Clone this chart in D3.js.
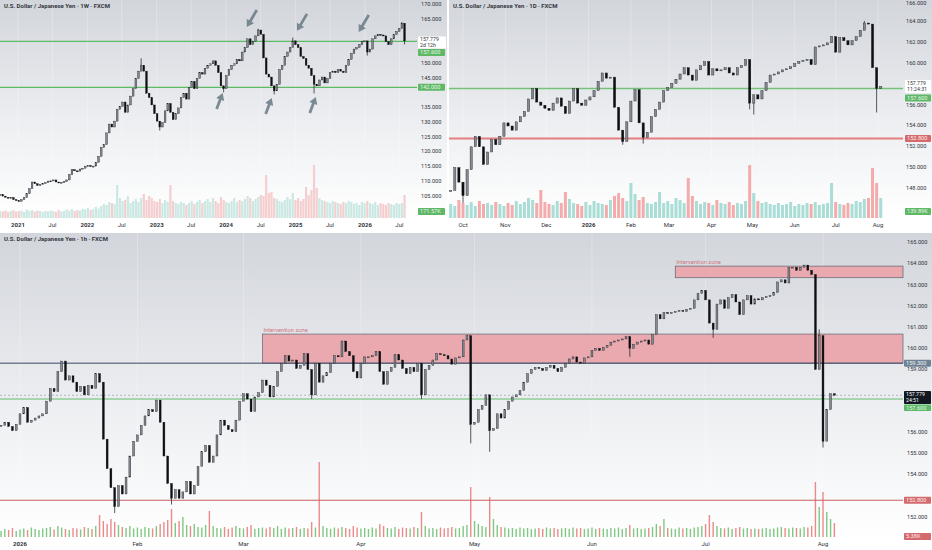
<!DOCTYPE html>
<html>
<head>
<meta charset="utf-8">
<script src="https://cdn.jsdelivr.net/npm/d3@7"></script>
<style>
  body { margin: 0; background: #fff; }
  svg { display: block; font-family: Roboto, "Liberation Sans", Arial, sans-serif; }
</style>
</head>
<body>
<svg id="chart" width="932" height="550"></svg>
<script>
// USD/JPY - three TradingView-style panes (1W, 1D, 1h), closes.

// ---- weekly pane: one close every 2 weeks from weeklyStart
const weeklyStart = "2020-09-29";
const weeklyStep = 14;
const weeklyClose = [
  105.5, 105.0, 104.6, 104.3, 104.5, 103.8, 103.5, 103.2, 103.8, 104.5,
  105.8, 107.5, 109.8, 109.2, 108.6, 108.9, 109.3, 109.6, 110.1, 110.2,
  110.5, 109.8, 109.5, 109.7, 109.9, 110.5, 112.3, 114.0, 113.6, 113.5,
  114.2, 114.5, 115.2, 115.4, 115.0, 115.2, 116.5, 118.5, 121.5, 122.5,
  126.5, 129.5, 128.5, 130.5, 134.5, 135.5, 137.0, 133.5, 136.0, 139.0,
  141.5, 145.0, 147.5, 149.5, 147.5, 140.0, 138.5, 136.0, 133.0, 130.5,
  128.5, 130.0, 134.0, 136.5, 133.5, 131.0, 133.0, 135.0, 138.5, 140.0,
  138.0, 142.0, 144.0, 141.5, 145.0, 147.0, 146.5, 148.5, 149.5, 150.0,
  151.0, 149.5, 147.0, 142.5, 141.5, 146.0, 148.0, 149.5, 150.0, 151.5,
  151.0, 154.0, 155.5, 158.5, 156.5, 157.5, 159.5, 161.5, 160.0, 152.0,
  146.5, 145.5, 142.5, 140.8, 143.0, 148.0, 149.5, 152.5, 154.0, 155.5,
  157.8, 156.5, 155.5, 152.5, 151.8, 149.5, 148.5, 146.0, 143.0, 142.5,
  144.5, 145.5, 143.5, 145.0, 147.0, 147.5, 147.0, 148.0, 147.5, 147.0,
  149.5, 151.5, 153.5, 155.0, 155.5, 156.5, 157.5, 157.8, 154.0, 155.0,
  158.5, 159.5, 160.0, 159.8, 159.5, 157.5, 156.5, 158.5, 160.0, 161.0,
  162.0, 163.8, 157.8
];
const weeklyVolume = [
  70, 65, 75, 60, 70, 80, 65, 70, 75, 60,
  85, 70, 80, 65, 75, 70, 60, 70, 65, 75,
  70, 60, 80, 65, 70, 85, 75, 90, 70, 80,
  75, 90, 85, 100, 80, 90, 110, 95, 120, 140,
  130, 160, 150, 140, 330, 200, 170, 180, 220, 150,
  170, 190, 160, 200, 240, 180, 220, 200, 170, 160,
  190, 150, 180, 160, 330, 170, 150, 140, 160, 150,
  130, 150, 170, 140, 160, 180, 150, 170, 190, 160,
  200, 170, 150, 210, 180, 160, 150, 170, 200, 160,
  180, 170, 190, 220, 200, 170, 190, 210, 230, 220,
  430, 250, 260, 200, 190, 170, 160, 180, 210, 190,
  250, 180, 200, 170, 190, 310, 230, 280, 530, 300,
  200, 180, 170, 160, 150, 170, 160, 150, 140, 160,
  150, 170, 160, 140, 150, 130, 160, 150, 170, 150,
  140, 160, 130, 150, 140, 130, 150, 140, 130, 150,
  140, 150, 230
];
// [candle index, wick extreme]
const weeklyWicks = [[53, 151.9], [60, 127.3], [84, 140.3], [97, 161.9], [103, 139.6],
  [110, 158.9], [118, 139.9], [138, 152.8], [151, 164.2], [152, 156.6]];
const weeklyLevels = [157.6, 142.0];
const weeklyArrows = [
  { date: "2024-04-19", price: 162.5, dir: "down" },
  { date: "2025-01-08", price: 161.2, dir: "down" },
  { date: "2025-11-29", price: 160.8, dir: "down" },
  { date: "2023-12-14", price: 140.1, dir: "up" },
  { date: "2024-08-28", price: 138.4, dir: "up" },
  { date: "2025-04-17", price: 138.7, dir: "up" }
];
const weeklyTicks = d3.range(105, 171, 5);

// ---- daily pane: one close every 3 days from dailyStart
const dailyStart = "2025-09-22";
const dailyStep = 3;
const dailyClose = [
  147.8, 150.0, 148.6, 147.3, 149.8, 152.0, 153.0, 152.0, 150.3, 151.5,
  152.7, 152.2, 153.0, 154.3, 154.0, 153.6, 154.4, 154.9, 155.4, 156.6,
  157.6, 156.3, 156.0, 155.7, 155.5, 156.2, 156.7, 155.9, 155.2, 156.4,
  157.6, 156.2, 156.0, 156.5, 156.8, 157.4, 158.3, 159.1, 158.6, 158.7,
  155.8, 153.6, 152.5, 154.4, 156.4, 157.5, 154.3, 152.9, 153.4, 154.9,
  155.6, 156.3, 157.4, 157.7, 158.1, 158.5, 159.0, 159.6, 158.9, 158.4,
  159.4, 159.8, 160.2, 158.9, 159.5, 159.3, 159.4, 159.6, 159.1, 158.9,
  159.6, 159.8, 160.4, 156.2, 157.0, 156.6, 157.4, 158.2, 158.9, 159.0,
  159.2, 159.4, 159.5, 159.7, 160.0, 160.2, 160.3, 160.4, 159.9, 161.6,
  161.7, 161.8, 162.0, 162.6, 161.1, 162.5, 162.2, 161.8, 162.2, 162.6,
  163.2, 163.9, 163.8, 159.6, 157.6, 157.8
];
const dailyVolume = [
  140, 120, 180, 150, 130, 160, 120, 170, 140, 150,
  130, 160, 140, 120, 150, 130, 170, 140, 160, 200,
  180, 150, 280, 160, 140, 130, 170, 150, 260, 190,
  150, 140, 120, 160, 130, 170, 150, 140, 130, 180,
  220, 250, 200, 170, 350, 240, 180, 210, 150, 140,
  160, 260, 150, 170, 140, 200, 180, 150, 400, 220,
  170, 140, 160, 150, 130, 180, 150, 140, 160, 130,
  150, 140, 170, 530, 250, 170, 150, 160, 140, 130,
  150, 130, 140, 160, 120, 140, 130, 150, 140, 160,
  130, 140, 150, 350, 160, 140, 130, 150, 140, 170,
  160, 190, 200, 500, 350, 200
];
const dailyWicks = [[3, 146.6], [42, 152.2], [47, 152.3], [73, 155.6], [74, 155.1],
  [101, 164.1], [104, 155.3]];
const dailyLevels = { support: 157.6, floor: 152.8 };
const dailyTicks = d3.range(146, 167, 2);

// ---- hourly pane: one close per day from hourlyStart
const hourlyStart = "2025-12-27";
const hourlyStep = 1;
const hourlyClose = [
  156.35, 156.5, 156.3, 156.1, 156.4, 156.9, 157.2, 156.5, 156.6, 156.7,
  156.8, 156.9, 157.5, 158.1, 157.95, 158.9, 159.4, 158.5, 158.7, 158.4,
  157.95, 158.2, 157.8, 158.25, 158.1, 158.8, 158.4, 155.7, 154.3, 153.4,
  152.5, 153.5, 153.1, 153.9, 154.9, 155.6, 155.9, 156.35, 156.8, 157.1,
  157.0, 157.55, 156.5, 154.9, 153.6, 152.9, 153.3, 152.9, 153.2, 153.7,
  153.1, 153.5, 154.4, 155.1, 155.4, 154.6, 154.9, 155.9, 156.6, 156.35,
  156.15, 156.05, 156.6, 157.5, 157.85, 157.6, 157.0, 157.7, 157.9, 158.5,
  158.25, 157.7, 158.2, 158.9, 159.3, 159.65, 159.4, 159.45, 159.05, 159.2,
  159.75, 159.0, 157.8, 159.3, 158.4, 158.7, 158.85, 159.3, 159.65, 159.6,
  160.35, 159.85, 159.65, 158.9, 158.6, 159.3, 159.6, 159.6, 159.65, 159.85,
  158.9, 158.3, 158.9, 159.1, 159.7, 159.45, 159.05, 158.8, 159.1, 158.9,
  159.3, 157.8, 159.0, 159.2, 159.45, 159.75, 159.7, 159.65, 159.5, 159.25,
  159.55, 159.6, 160.4, 160.6, 156.4, 156.5, 157.1, 157.3, 157.8, 156.1,
  156.2, 156.9, 156.7, 157.1, 157.5, 157.7, 157.8, 158.0, 158.4, 158.8,
  159.0, 159.1, 159.05, 158.95, 159.1, 159.2, 159.05, 158.9, 159.1, 159.3,
  159.5, 159.6, 159.35, 159.3, 159.55, 159.6, 159.9, 160.0, 159.9, 160.05,
  160.15, 160.3, 160.35, 160.4, 160.45, 160.55, 160.0, 160.2, 160.3, 160.35,
  160.4, 160.2, 160.65, 161.6, 161.4, 161.7, 161.65, 161.7, 161.75, 161.8,
  161.75, 161.85, 161.9, 162.3, 162.6, 162.75, 162.3, 161.2, 160.9, 162.1,
  162.3, 161.9, 162.4, 162.55, 162.2, 161.6, 162.3, 162.5, 162.1, 162.35,
  162.3, 162.4, 162.45, 162.5, 162.65, 163.15, 163.25, 163.1, 163.85, 163.85,
  163.7, 163.85, 163.95, 163.7, 163.5, 159.0, 160.6, 155.6, 157.1, 157.85,
  157.78
];
const hourlyVolume = [
  60, 80, 70, 90, 60, 75, 85, 70, 95, 80,
  70, 85, 90, 100, 75, 110, 95, 80, 70, 90,
  85, 75, 100, 90, 80, 110, 220, 160, 130, 180,
  150, 120, 100, 90, 110, 85, 95, 80, 100, 90,
  85, 110, 130, 150, 170, 280, 140, 160, 200, 120,
  110, 130, 100, 95, 120, 260, 110, 90, 85, 100,
  80, 95, 110, 90, 85, 100, 120, 80, 90, 95,
  85, 100, 90, 110, 80, 95, 85, 90, 100, 80,
  90, 85, 150, 95, 750, 110, 90, 80, 95, 85,
  100, 90, 80, 110, 95, 85, 90, 80, 95, 85,
  130, 110, 90, 85, 100, 80, 95, 90, 85, 100,
  90, 250, 110, 85, 90, 80, 95, 85, 90, 100,
  85, 90, 110, 120, 500, 160, 130, 110, 100, 400,
  180, 120, 100, 95, 85, 90, 80, 95, 85, 90,
  80, 85, 90, 80, 95, 85, 90, 80, 85, 90,
  80, 95, 85, 90, 80, 85, 95, 80, 90, 85,
  80, 90, 85, 95, 80, 90, 120, 85, 90, 80,
  85, 90, 100, 130, 110, 180, 90, 85, 80, 95,
  85, 90, 80, 95, 100, 110, 130, 220, 150, 110,
  90, 85, 95, 80, 90, 100, 85, 90, 80, 85,
  80, 85, 90, 80, 85, 95, 100, 90, 85, 95,
  90, 85, 100, 95, 110, 550, 300, 450, 250, 180,
  140
];
const hourlyWicks = [[30, 152.2], [45, 152.6], [82, 157.6], [111, 157.6], [124, 155.5],
  [129, 155.1], [166, 159.6], [188, 160.5], [216, 160.9], [217, 155.3]];
const hourlyLevels = { ceiling: 159.3, support: 157.6, floor: 152.8, last: 157.779 };
const hourlyZones = [
  { label: "Intervention zone", start: "2026-03-06", top: 160.68, bottom: 159.3 },
  { label: "Intervention zone", start: "2026-06-23", top: 163.9, bottom: 163.35 }
];
const hourlyTicks = d3.range(152, 166, 1);

// ---------------------------------------------------------------------------

const parse = d3.timeParse("%Y-%m-%d");
const DAY = 864e5;
const fmtPrice = d3.format(".3f");

const svg = d3.select("#chart");
const defs = svg.append("defs");
const grad = defs.append("linearGradient").attr("id", "paneBg")
  .attr("x1", 0).attr("y1", 0).attr("x2", 0).attr("y2", 1);
grad.append("stop").attr("offset", "0%").attr("stop-color", "#d2d5db");
grad.append("stop").attr("offset", "55%").attr("stop-color", "#eceef1");
grad.append("stop").attr("offset", "100%").attr("stop-color", "#ffffff");

const UP = { fill: "#858a92", stroke: "#1c1e23" };
const DOWN = { fill: "#0e0f12", stroke: "#0e0f12" };

function datesFor(start, step, n) {
  const t0 = parse(start).getTime();
  return d3.range(n).map(i => new Date(t0 + i * step * DAY));
}

function pane(cfg) {
  const g = svg.append("g");
  g.append("rect").attr("x", cfg.left).attr("y", cfg.top)
    .attr("width", cfg.right - cfg.left).attr("height", cfg.bottom - cfg.top)
    .attr("fill", "url(#paneBg)");
  g.append("rect").attr("x", cfg.left).attr("y", cfg.bottom)
    .attr("width", cfg.right - cfg.left).attr("height", cfg.axisBottom - cfg.bottom)
    .attr("fill", "#ffffff");

  // faint vertical grid at month ticks
  g.selectAll(".vgrid").data(cfg.xTicks).join("line")
    .attr("x1", d => cfg.x(d)).attr("x2", d => cfg.x(d))
    .attr("y1", cfg.top).attr("y2", cfg.bottom)
    .attr("stroke", "#ffffff").attr("stroke-opacity", 0.35).attr("stroke-width", 0.8);

  // x axis labels
  g.selectAll(".xt").data(cfg.xTicks).join("text")
    .attr("x", d => cfg.x(d)).attr("y", cfg.xLabelY)
    .attr("text-anchor", "middle").attr("dominant-baseline", "middle")
    .attr("font-size", "6px")
    .attr("font-weight", d => d.getMonth() === 0 ? 700 : 400)
    .attr("fill", "#2f333b")
    .text(cfg.xFormat);

  // y axis labels; the ones sitting under a price tag are covered, as on the screen
  const free = cfg.yTicks.filter(v => {
    const y = cfg.y(v);
    return !cfg.tagBoxes.some(b => y + 2.6 > b[0] && y - 2.6 < b[1]);
  });
  g.selectAll(".yt").data(free).join("text")
    .attr("x", cfg.yLabelX).attr("y", d => Math.max(3.2, cfg.y(d)))
    .attr("dominant-baseline", "middle")
    .attr("font-size", "5.6px").attr("fill", "#2f333b")
    .text(fmtPrice);

  // title
  g.append("text").attr("x", cfg.left + 4).attr("y", cfg.top + 8)
    .attr("font-size", "6px").attr("font-weight", 700).attr("fill", "#333740")
    .text(cfg.title);
  return g;
}

function volumes(g, cfg, dates, closes, vols, colors, barW) {
  const h = d3.scaleLinear().domain([0, cfg.volMax]).range([0, cfg.volHeight]);
  g.append("g").selectAll("rect").data(vols).join("rect")
    .attr("x", (d, i) => cfg.x(dates[i]) - barW / 2)
    .attr("y", d => cfg.volBase - h(d))
    .attr("width", barW)
    .attr("height", d => h(d))
    .attr("fill", (d, i) => closes[i] >= (i ? closes[i - 1] : closes[i]) ? colors.up : colors.down);
}

function candles(g, cfg, dates, closes, wicks, bodyW) {
  const rows = closes.map((c, i) => ({ date: dates[i], open: i ? closes[i - 1] : c, close: c }));
  const wg = g.append("g");
  wg.selectAll("line").data(wicks).join("line")
    .attr("x1", d => cfg.x(dates[d[0]])).attr("x2", d => cfg.x(dates[d[0]]))
    .attr("y1", d => cfg.y(d[1] > closes[d[0]] ? Math.max(closes[d[0]], rows[d[0]].open) : Math.min(closes[d[0]], rows[d[0]].open)))
    .attr("y2", d => cfg.y(d[1]))
    .attr("stroke", "#2b2e34").attr("stroke-width", 0.8);
  g.append("g").selectAll("rect").data(rows).join("rect")
    .attr("x", d => cfg.x(d.date) - bodyW / 2)
    .attr("y", d => cfg.y(Math.max(d.open, d.close)))
    .attr("width", bodyW)
    .attr("height", d => Math.max(1, Math.abs(cfg.y(d.open) - cfg.y(d.close))))
    .attr("fill", d => d.close >= d.open ? UP.fill : DOWN.fill)
    .attr("stroke", d => d.close >= d.open ? UP.stroke : DOWN.stroke)
    .attr("stroke-width", 0.4);
}

function hline(g, cfg, value, color, width, dash) {
  g.append("line").attr("x1", cfg.left).attr("x2", cfg.plotRight)
    .attr("y1", cfg.y(value)).attr("y2", cfg.y(value))
    .attr("stroke", color).attr("stroke-width", width)
    .attr("stroke-dasharray", dash || null);
}

function tag(g, t) {
  g.append("rect").attr("x", t.x).attr("y", t.y).attr("width", t.w).attr("height", t.h)
    .attr("rx", 0.8).attr("fill", t.fill);
  t.lines.forEach((s, k) => {
    g.append("text").attr("x", t.x + 2).attr("y", t.y + (t.h / t.lines.length) * (k + 0.5) + 0.3)
      .attr("dominant-baseline", "middle").attr("font-size", t.lines.length > 1 ? "5.2px" : "5.6px")
      .attr("fill", t.color).text(s);
  });
}

function arrowPath(x1, y1, x2, y2) {
  const dx = x2 - x1, dy = y2 - y1, L = Math.hypot(dx, dy);
  const ux = dx / L, uy = dy / L, px = -uy, py = ux;
  const hl = 7, hw = 4.2, sw = 1.4;
  const bx = x2 - ux * hl, by = y2 - uy * hl;
  const pts = [[x1 + px * sw, y1 + py * sw], [bx + px * sw, by + py * sw], [bx + px * hw, by + py * hw],
    [x2, y2], [bx - px * hw, by - py * hw], [bx - px * sw, by - py * sw], [x1 - px * sw, y1 - py * sw]];
  return "M" + pts.map(p => p.join(",")).join("L") + "Z";
}

const GREEN_TAG = { fill: "#5fb866", color: "#e8f5e9" };
const RED_TAG = { fill: "#d46a6d", color: "#fdeaea" };

// ---------------- weekly pane ----------------
{
  const y = d3.scaleLinear().domain([100, 170]).range([210.8, 5]);
  const tags = [
    { x: 418, y: 36.5, w: 28, h: 12, fill: "#ffffff", color: "#2f333b", lines: ["157.779", "2d 12h"] },
    { x: 418, y: 49, w: 27, h: 7, ...GREEN_TAG, lines: ["157.600"] },
    { x: 418, y: y(142) - 3.5, w: 27, h: 7, ...GREEN_TAG, lines: ["142.000"] },
    { x: 418, y: 208, w: 27, h: 7, ...GREEN_TAG, lines: ["171.57K"] }
  ];
  const cfg = {
    left: 0, right: 447, top: 0, bottom: 218, axisBottom: 232, plotRight: 417,
    x: d3.scaleTime().domain([new Date(2021, 0, 1), new Date(2026, 0, 1)]).range([18, 365]),
    y,
    xTicks: d3.timeMonths(new Date(2021, 0, 1), new Date(2026, 7, 1), 6),
    xFormat: d => d.getMonth() === 0 ? d.getFullYear() : "Jul",
    yTicks: weeklyTicks, yLabelX: 421, xLabelY: 225,
    tagBoxes: tags.map(t => [t.y, t.y + t.h]),
    title: "U.S. Dollar / Japanese Yen · 1W · FXCM",
    volBase: 218, volHeight: 60, volMax: 600
  };
  const g = pane(cfg);
  const dates = datesFor(weeklyStart, weeklyStep, weeklyClose.length);
  volumes(g, cfg, dates, weeklyClose, weeklyVolume, { up: "#cbe8e3", down: "#f5cfcf" }, 2.2);
  weeklyLevels.forEach(v => hline(g, cfg, v, "#5dbb63", 1.2));
  candles(g, cfg, dates, weeklyClose, weeklyWicks, 1.7);
  g.append("g").selectAll("path").data(weeklyArrows).join("path")
    .attr("d", a => {
      const tx = cfg.x(parse(a.date)), ty = cfg.y(a.price);
      return a.dir === "down" ? arrowPath(tx + 10, ty - 17, tx, ty) : arrowPath(tx - 6, ty + 16, tx, ty);
    })
    .attr("fill", "#6e8088").attr("fill-opacity", 0.9);
  tags.forEach(t => tag(g, t));
}

// ---------------- daily pane ----------------
{
  const y = d3.scaleLinear().domain([146, 166]).range([209.2, 1.2]);
  const tags = [
    { x: 905, y: 80, w: 26, h: 13, fill: "#ffffff", color: "#2f333b", lines: ["157.779", "11:24:31"] },
    { x: 905, y: 94.5, w: 26, h: 7, ...GREEN_TAG, lines: ["157.600"] },
    { x: 905, y: y(dailyLevels.floor) - 3.5, w: 26, h: 7, ...RED_TAG, lines: ["152.800"] },
    { x: 905, y: 208, w: 26, h: 7, ...GREEN_TAG, lines: ["139.89K"] }
  ];
  const cfg = {
    left: 449, right: 932, top: 0, bottom: 218, axisBottom: 232, plotRight: 903,
    x: d3.scaleTime().domain([new Date(2025, 9, 1), new Date(2026, 7, 1)]).range([463, 878]),
    y,
    xTicks: d3.timeMonths(new Date(2025, 9, 1), new Date(2026, 7, 2)),
    xFormat: d => d.getMonth() === 0 ? d.getFullYear() : d3.timeFormat("%b")(d),
    yTicks: dailyTicks, yLabelX: 906, xLabelY: 225,
    tagBoxes: tags.map(t => [t.y, t.y + t.h]),
    title: "U.S. Dollar / Japanese Yen · 1D · FXCM",
    volBase: 218, volHeight: 60, volMax: 600
  };
  const g = pane(cfg);
  const dates = datesFor(dailyStart, dailyStep, dailyClose.length);
  volumes(g, cfg, dates, dailyClose, dailyVolume, { up: "#a9ddd6", down: "#f3abab" }, 3);
  hline(g, cfg, dailyLevels.support, "#74c277", 1.5);
  hline(g, cfg, dailyLevels.floor, "#e57f7f", 2);
  candles(g, cfg, dates, dailyClose, dailyWicks, 2.2);
  tags.forEach(t => tag(g, t));
}

// ---------------- hourly pane ----------------
{
  const y = d3.scaleLinear().domain([152, 165]).range([517.2, 242.9]);
  const tags = [
    { x: 904, y: y(hourlyLevels.ceiling) - 3.5, w: 27, h: 7, fill: "#6f8294", color: "#eef2f6", lines: ["159.300"] },
    { x: 904, y: 391, w: 27, h: 13, fill: "#131722", color: "#ffffff", lines: ["157.779", "24:51"] },
    { x: 904, y: 404.5, w: 27, h: 6.5, ...GREEN_TAG, lines: ["157.600"] },
    { x: 904, y: y(hourlyLevels.floor) - 3.5, w: 27, h: 7, ...RED_TAG, lines: ["152.800"] },
    { x: 904, y: 533, w: 27, h: 7, ...RED_TAG, lines: ["5.38K"] }
  ];
  const cfg = {
    left: 0, right: 932, top: 233, bottom: 538, axisBottom: 550, plotRight: 903,
    x: d3.scaleTime().domain([new Date(2026, 0, 1), new Date(2026, 7, 1)]).range([20, 823]),
    y,
    xTicks: d3.timeMonths(new Date(2026, 0, 1), new Date(2026, 7, 2)),
    xFormat: d => d.getMonth() === 0 ? d.getFullYear() : d3.timeFormat("%b")(d),
    yTicks: hourlyTicks, yLabelX: 907, xLabelY: 544,
    tagBoxes: tags.map(t => [t.y, t.y + t.h]),
    title: "U.S. Dollar / Japanese Yen · 1h · FXCM",
    volBase: 537, volHeight: 80, volMax: 800
  };
  const g = pane(cfg);
  const dates = datesFor(hourlyStart, hourlyStep, hourlyClose.length);

  hourlyZones.forEach(z => {
    const x0 = cfg.x(parse(z.start));
    g.append("rect").attr("x", x0).attr("y", cfg.y(z.top))
      .attr("width", cfg.plotRight - x0).attr("height", cfg.y(z.bottom) - cfg.y(z.top))
      .attr("fill", "#e9a9ae").attr("stroke", "#5d6570").attr("stroke-width", 0.7);
    g.append("text").attr("x", x0 + 1).attr("y", cfg.y(z.top) - 2.5)
      .attr("font-size", "5.8px").attr("fill", "#d0767e").text(z.label);
  });

  volumes(g, cfg, dates, hourlyClose, hourlyVolume, { up: "#7fc883", down: "#ec8a8a" }, 1.4);
  hline(g, cfg, hourlyLevels.ceiling, "#3b4b68", 1);
  hline(g, cfg, hourlyLevels.support, "#62bd68", 1.1);
  hline(g, cfg, hourlyLevels.floor, "#c65f62", 1.1);
  hline(g, cfg, hourlyLevels.last, "#9aa0a8", 0.7, "2,2");
  candles(g, cfg, dates, hourlyClose, hourlyWicks, 1.9);
  tags.forEach(t => tag(g, t));
}

// pane separators
svg.append("line").attr("x1", 448).attr("x2", 448).attr("y1", 0).attr("y2", 232)
  .attr("stroke", "#ffffff").attr("stroke-width", 2);
svg.append("line").attr("x1", 0).attr("x2", 932).attr("y1", 232.5).attr("y2", 232.5)
  .attr("stroke", "#ffffff").attr("stroke-width", 1);
</script>
</body>
</html>
